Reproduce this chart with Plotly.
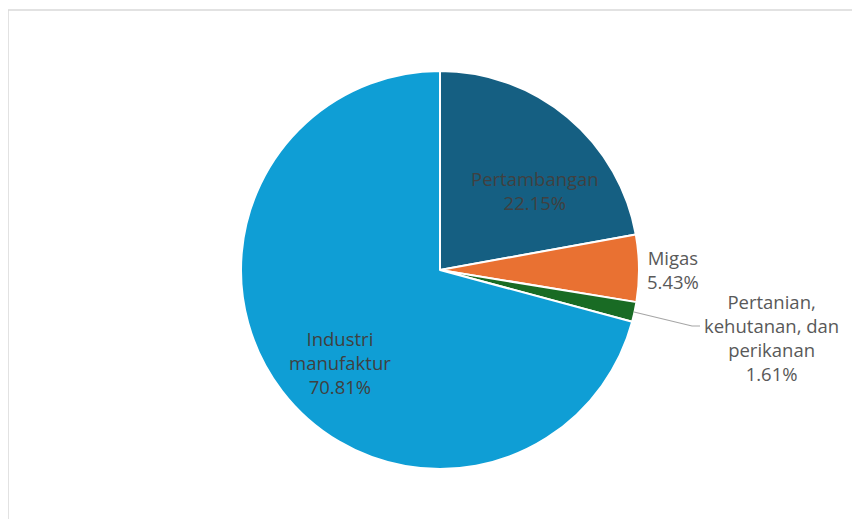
import plotly.graph_objects as go

labels = ["Pertambangan", "Migas", "Pertanian, kehutanan, dan perikanan", "Industri manufaktur"]
values = [22.15, 5.43, 1.61, 70.81]
label_lines = [["Pertambangan"], ["Migas"], ["Pertanian,", "kehutanan, dan", "perikanan"], ["Industri", "manufaktur"]]
colors = ["#155F82", "#E97132", "#196B24", "#0F9ED5"]

W, H = 860, 519
OFF = 8  # browser body margin
cx, cy, r = 440 - OFF, 270 - OFF, 199

fig = go.Figure(go.Pie(
    labels=labels, values=values, sort=False, direction="clockwise", rotation=0,
    marker=dict(colors=colors, line=dict(color="white", width=2)),
    textinfo="none", hoverinfo="label+percent", showlegend=False,
    domain=dict(x=[(cx - r) / W, (cx + r) / W], y=[1 - (cy + r) / H, 1 - (cy - r) / H]),
))

def px(x):
    return (x - OFF) / W

def py(y):
    return 1 - (y - OFF) / H

label_pos = [(535, 190, "#404040"), (673, 269, "#595959"), (771, 337, "#595959"), (340, 362, "#404040")]
annots = []
for lines, v, (x, y, c) in zip(label_lines, values, label_pos):
    txt = "<br>".join(lines + [f"{v:.2f}%"])
    annots.append(dict(x=px(x), y=py(y), xref="paper", yref="paper", text=txt, showarrow=False,
                       font=dict(family="Open Sans, sans-serif", size=18.5, color=c),
                       align="center", xanchor="center", yanchor="middle"))

shapes = [
    dict(type="rect", xref="paper", yref="paper", x0=px(8), x1=px(900), y0=py(560), y1=py(10),
         line=dict(color="#D9D9D9", width=1.5), fillcolor="rgba(0,0,0,0)", layer="below"),
    dict(type="path", xref="paper", yref="paper",
         path=f"M {px(634)} {py(312)} L {px(692)} {py(326)} L {px(700)} {py(326)}",
         line=dict(color="#A6A6A6", width=1.2)),
]

fig.update_layout(width=W, height=H, margin=dict(l=0, r=0, t=0, b=0),
                  paper_bgcolor="white", plot_bgcolor="white",
                  annotations=annots, shapes=shapes)
fig.write_html("out.html")
